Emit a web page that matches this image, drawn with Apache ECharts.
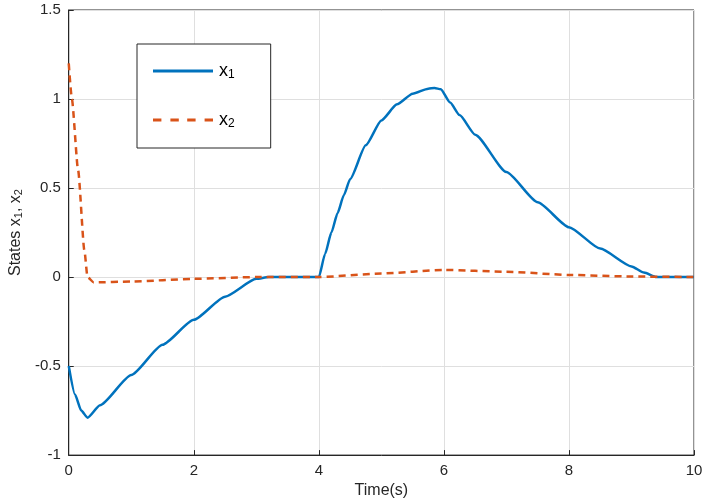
<!DOCTYPE html>
<html><head><meta charset="utf-8">
<script src="https://cdn.jsdelivr.net/npm/echarts@6/dist/echarts.min.js"></script>
<style>html,body{margin:0;background:#fff}#c{width:708px;height:504px}</style>
</head><body><div id="c"></div>
<script>
const t1 = [0, 0.1, 0.2, 0.3, 0.5, 1, 1.5, 2, 2.5, 3, 3.2, 4, 4.1, 4.2, 4.3, 4.4, 4.5, 4.75, 5, 5.25, 5.5, 5.75, 5.85, 5.95, 6.1, 6.25, 6.5, 7, 7.5, 8, 8.5, 9, 9.2, 9.4, 10];
const x1 = [-0.5, -0.66, -0.75, -0.79, -0.72, -0.55, -0.38, -0.24, -0.11, -0.01, 0, 0, 0.13, 0.25, 0.36, 0.46, 0.55, 0.74, 0.88, 0.97, 1.03, 1.058, 1.062, 1.055, 0.98, 0.91, 0.8, 0.59, 0.42, 0.28, 0.16, 0.06, 0.025, 0, 0];
const t2 = [0, 0.05, 0.15, 0.25, 0.3, 0.4, 1, 2, 3, 4, 5, 6, 7, 8, 9, 10];
const x2 = [1.2, 1.0, 0.6, 0.15, 0.0, -0.03, -0.025, -0.01, 0, 0, 0.02, 0.04, 0.03, 0.012, 0.003, 0];

const font = 'Liberation Sans, Arial, sans-serif';
const rich = { sub: { fontSize: 12, verticalAlign: 'bottom', padding: [8, 0, 0, 0], fontFamily: font, color: '#000' } };
const chart = echarts.init(document.getElementById('c'));
chart.setOption({
  animation: false,
  grid: { left: 66, right: 14, top: 10, bottom: 40, show: true, borderColor: '#262626', borderWidth: 1 },
  legend: {
    left: 137, top: 44, orient: 'vertical', itemWidth: 62, itemHeight: 3, itemGap: 30,
    padding: [18, 36, 18, 16], borderColor: '#262626', borderWidth: 1, backgroundColor: '#fff',
    textStyle: { fontSize: 18, fontFamily: font, color: '#000', rich },
    formatter: n => n === 'x1' ? 'x{sub|1}' : 'x{sub|2}',
    data: [{ name: 'x1', icon: 'path://M0,0H1V0.05H0Z' }, { name: 'x2', icon: 'path://M0,0H0.14V0.05H0ZM0.29,0H0.43V0.05H0.29ZM0.57,0H0.71V0.05H0.57ZM0.86,0H1V0.05H0.86Z' }]
  },
  xAxis: {
    type: 'value', min: 0, max: 10, interval: 2,
    name: 'Time(s)', nameLocation: 'middle', nameGap: 24,
    nameTextStyle: { fontSize: 16, fontFamily: font, color: '#262626' },
    axisLine: { onZero: false, lineStyle: { color: '#262626' } },
    axisTick: { inside: true, lineStyle: { color: '#262626' } },
    axisLabel: { fontSize: 15, fontFamily: font, color: '#262626' },
    splitLine: { lineStyle: { color: '#dfdfdf' } }
  },
  yAxis: {
    type: 'value', min: -1, max: 1.5, interval: 0.5,
    name: 'States x{sub|1}, x{sub|2}', nameLocation: 'middle', nameGap: 44,
    nameTextStyle: { fontSize: 16, fontFamily: font, color: '#262626', rich: { sub: { fontSize: 11, color: '#262626', verticalAlign: 'bottom' } } },
    axisLine: { show: true, lineStyle: { color: '#262626' } },
    axisTick: { show: true, inside: true, lineStyle: { color: '#262626' } },
    axisLabel: { fontSize: 15, fontFamily: font, color: '#262626', formatter: v => String(v) },
    splitLine: { lineStyle: { color: '#dfdfdf' } }
  },
  series: [
    { name: 'x1', type: 'line', smooth: 0.2, smoothMonotone: 'x', showSymbol: false, data: t1.map((t, i) => [t, x1[i]]),
      itemStyle: { color: '#0072BD' }, lineStyle: { color: '#0072BD', width: 2.5 } },
    { name: 'x2', type: 'line', smooth: 0.2, smoothMonotone: 'x', showSymbol: false, data: t2.map((t, i) => [t, x2[i]]),
      itemStyle: { color: '#D95319' }, lineStyle: { color: '#D95319', width: 2.5, type: [7, 5] } }
  ]
});
</script></body></html>
